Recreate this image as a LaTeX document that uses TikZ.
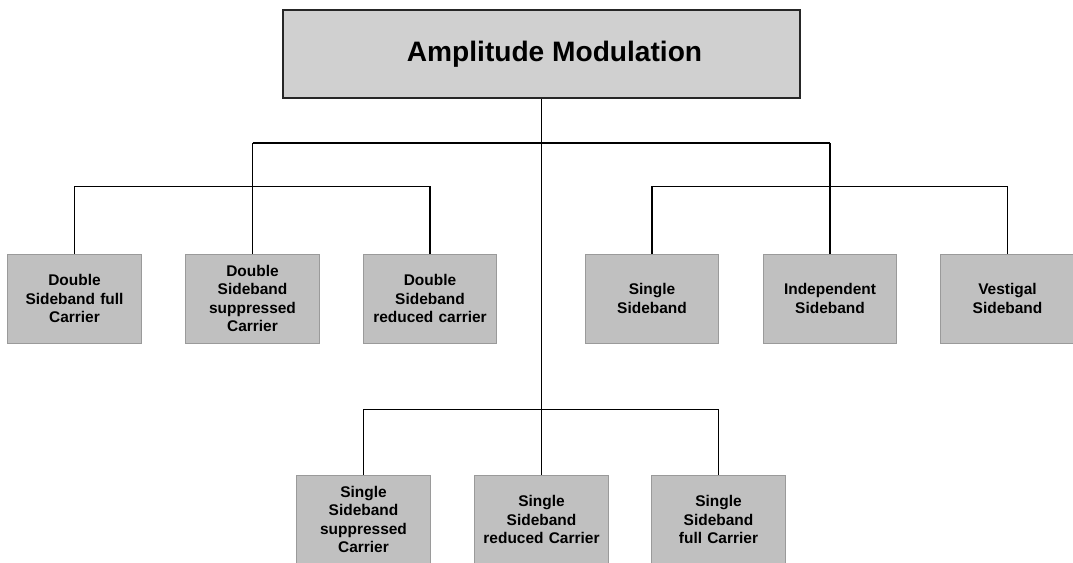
\documentclass[tikz,border=0pt]{standalone}
\usepackage{fontspec}
\setmainfont{Liberation Sans}
\usepackage{tikz}

\definecolor{rootgray}{HTML}{D0D0D0}
\definecolor{leafgray}{HTML}{C0C0C0}
\definecolor{leafedge}{HTML}{9A9A9A}

\begin{document}
\begin{tikzpicture}[x=0.025cm,y=-0.025cm]
	\tikzstyle{root}=[draw=black!85,line width=1.4pt,fill=rootgray,minimum width=12.9cm,minimum height=2.2cm,font=\fontsize{20}{24}\selectfont\bfseries]
	\tikzstyle{leaf}=[draw=leafedge,line width=0.6pt,fill=leafgray,minimum width=3.325cm,minimum height=2.225cm,align=center,text width=3.1cm,font=\fontsize{11}{13}\selectfont\bfseries]
	\tikzstyle{link}=[line width=1pt,black]
	\useasboundingbox (0,0) rectangle (1073,563);
	% root
	\node[root](am) at (541.5,54) {\hspace*{0.65cm}\raisebox{-0.1cm}{Amplitude Modulation}};
	% double sideband group
	\node[leaf](dsfc) at (74.5,298.5) {Double\\Sideband full\\Carrier};
	\node[leaf](dssc) at (252.5,298.5) {Double\\Sideband\\suppressed\\Carrier};
	\node[leaf](dsrc) at (430,298.5) {Double\\Sideband\\reduced carrier};
	% single sideband group
	\node[leaf](ssb) at (652,298.5) {Single\\Sideband};
	\node[leaf](isb) at (830,298.5) {Independent\\Sideband};
	\node[leaf](vsb) at (1007.5,298.5) {Vestigal\\Sideband};
	% bottom group
	\node[leaf](sssc) at (363.5,519.5) {Single\\Sideband\\suppressed\\Carrier};
	\node[leaf](ssrc) at (541.5,519.5) {Single\\Sideband\\reduced Carrier};
	\node[leaf](ssfc) at (718.5,519.5) {Single\\Sideband\\full Carrier};
	% junctions
	\coordinate (jl) at (dssc.north |- 0,143);
	\coordinate (jr) at (isb.north |- 0,143);
	% connectors
	\draw[link](am.south) -- (ssrc.north);
	\draw[link](jl) -- (jr);
	\draw[link](jl) -- (dssc.north);
	\draw[link](jr) -- (isb.north);
	\draw[link](dsfc.north) -- ++(0,-67) -| (dsrc.north);
	\draw[link](ssb.north) -- ++(0,-67) -| (vsb.north);
	\draw[link](sssc.north) -- ++(0,-65) -| (ssfc.north);
\end{tikzpicture}
\end{document}
